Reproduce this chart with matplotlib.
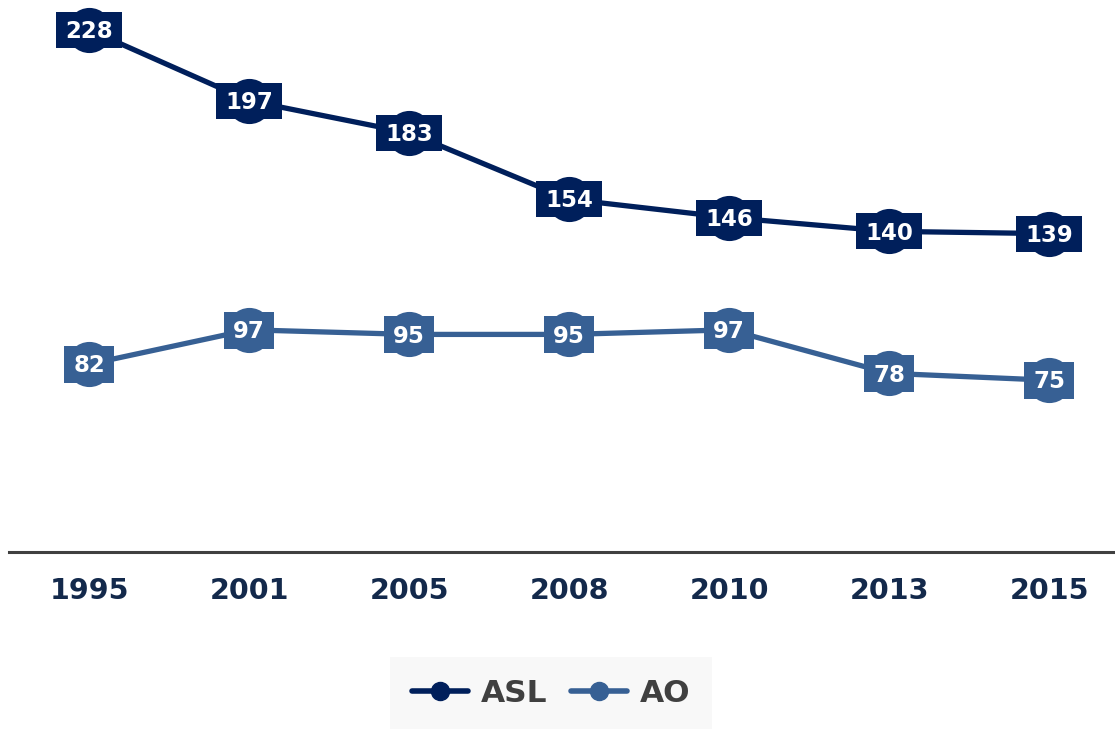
import matplotlib.pyplot as plt
from matplotlib.lines import Line2D

# データ
years = ["1995", "2001", "2005", "2008", "2010", "2013", "2015"]
asl = [228, 197, 183, 154, 146, 140, 139]
ao = [82, 97, 95, 95, 97, 78, 75]

ASL_COLOR = "#001f5b"
AO_COLOR = "#376094"

LABEL_FS = 16.5        # ラベル文字サイズ (pt)
BOX_H_PX = 37          # ラベル背景の高さ (px)

plt.rcParams["font.family"] = ["DejaVu Sans"]

fig = plt.figure(figsize=(11.15, 7.29), dpi=100)
ax = fig.add_axes([9 / 1115, 177 / 729, 1106 / 1115, 552 / 729])


def label_box(text):
    """文字数に合わせた長方形マーカー（頂点, サイズpt）"""
    w = len(text) * 0.696 * LABEL_FS / 0.72 + 18
    h = BOX_H_PX / w
    verts = [(-1, -h), (1, -h), (1, h), (-1, h), (-1, -h)]
    return verts, w * 0.72


x = list(range(len(years)))
for vals, color in [(asl, ASL_COLOR), (ao, AO_COLOR)]:
    ax.plot(x, vals, color=color, linewidth=3.8, marker="o", markersize=32.5,
            markeredgewidth=0, zorder=2)
    for xi, v in zip(x, vals):
        verts, ms = label_box(str(v))
        ax.plot([xi], [v], linestyle="none", marker=verts, markersize=ms,
                color=color, markeredgewidth=0, zorder=3)
        ax.annotate(str(v), (xi, v), xytext=(0, -1.2),
                    textcoords="offset points", ha="center", va="center",
                    color="white", fontsize=LABEL_FS, fontweight="bold",
                    zorder=4)

ax.set_xlim(-0.5, 6.41)
ax.set_ylim(0, 241)
ax.set_xticks(x)
ax.set_xticklabels(years, fontsize=20.5, fontweight="bold", color="#13294b")
ax.set_yticks([])
ax.tick_params(axis="x", length=0, pad=18)
for side in ["top", "right", "left"]:
    ax.spines[side].set_visible(False)
ax.spines["bottom"].set_color("#404040")
ax.spines["bottom"].set_linewidth(2.2)

handles = [
    Line2D([], [], color=ASL_COLOR, linewidth=4, marker="o", markersize=13,
           solid_capstyle="round"),
    Line2D([], [], color=AO_COLOR, linewidth=4, marker="o", markersize=13,
           solid_capstyle="round"),
]
leg = ax.legend(handles, ["ASL", "AO"], loc="center",
                bbox_to_anchor=(551 / 1115, 36 / 729),
                bbox_transform=fig.transFigure, ncol=2, frameon=True,
                fancybox=False, handlelength=1.8, columnspacing=0.74,
                handletextpad=0.42, borderpad=0.68, borderaxespad=0,
                prop={"size": 22.5, "weight": "bold"})
leg.get_frame().set_facecolor("#f7f7f7")
leg.get_frame().set_edgecolor("none")
for t in leg.get_texts():
    t.set_color("#404040")

fig.savefig("out.png", dpi=100)
